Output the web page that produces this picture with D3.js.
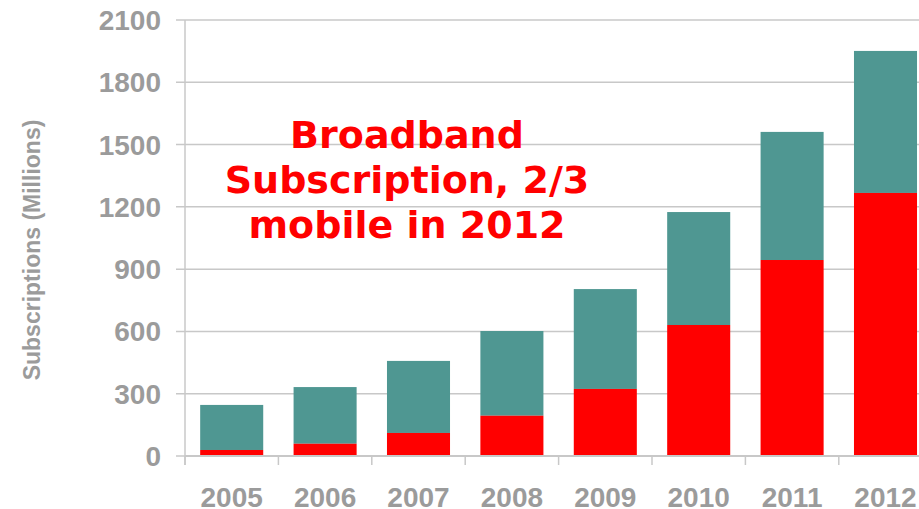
<!DOCTYPE html>
<html>
<head>
<meta charset="utf-8">
<script src="https://cdn.jsdelivr.net/npm/d3@7"></script>
<style>
  body { margin: 0; background: #fff; }
  svg { display: block; }
  .tickText { font-family: "Liberation Sans", Arial, sans-serif; font-weight: bold; fill: #9b9b9b; }
  .note { font-family: "DejaVu Sans", Verdana, sans-serif; font-weight: bold; fill: #ff0000; }
</style>
</head>
<body>
<div id="chart"></div>
<script>
// data
var years = ["2005","2006","2007","2008","2009","2010","2011","2012"]
var mobile = [29, 59, 111, 194, 323, 631, 944, 1267]
var total = [246, 332, 458, 602, 804, 1175, 1561, 1951]
var yTicks = [0, 300, 600, 900, 1200, 1500, 1800, 2100]
var noteLines = ["Broadband", "Subscription, 2/3", "mobile in 2012"]

var W = 919, H = 509
var svg = d3.select("#chart").append("svg")
  .attr("width", W)
  .attr("height", H)

var xScale = d3.scaleBand()
  .domain(years)
  .range([185, 185 + 93.4 * years.length])
  .paddingInner(0.325)
  .paddingOuter(0.1625)
var yScale = d3.scaleLinear()
  .domain([0, 2100])
  .range([456, 20])

/* grid */
svg.selectAll(".grid")
  .data(yTicks)
  .enter()
  .append("line")
  .attr("class", "grid")
  .attr("x1", 176)
  .attr("x2", W)
  .attr("y1", function(d) { return yScale(d) })
  .attr("y2", function(d) { return yScale(d) })
  .attr("stroke", "#c8c8c8")
  .attr("stroke-width", 1.5)

/* bars */
var bars = svg.append("g")
bars.selectAll(".tot")
  .data(years)
  .enter()
  .append("rect")
  .attr("x", function(d) { return xScale(d) })
  .attr("width", xScale.bandwidth())
  .attr("y", function(d, i) { return yScale(total[i]) })
  .attr("height", function(d, i) { return yScale(mobile[i]) - yScale(total[i]) })
  .attr("fill", "#4f9792")
bars.selectAll(".mob")
  .data(years)
  .enter()
  .append("rect")
  .attr("x", function(d) { return xScale(d) })
  .attr("width", xScale.bandwidth())
  .attr("y", function(d, i) { return yScale(mobile[i]) })
  .attr("height", function(d, i) { return yScale(0) - yScale(mobile[i]) })
  .attr("fill", "#ff0000")

/* axes */
svg.append("line")
  .attr("x1", 185).attr("x2", 185)
  .attr("y1", yScale(2100)).attr("y2", yScale(0) + 9)
  .attr("stroke", "#c8c8c8").attr("stroke-width", 1.5)
svg.append("line")
  .attr("x1", 185).attr("x2", W)
  .attr("y1", yScale(0)).attr("y2", yScale(0))
  .attr("stroke", "#c8c8c8").attr("stroke-width", 2)
svg.selectAll(".xtick")
  .data(years)
  .enter()
  .append("line")
  .attr("x1", function(d) { return xScale(d) - xScale.step() * xScale.paddingInner() / 2 })
  .attr("x2", function(d) { return xScale(d) - xScale.step() * xScale.paddingInner() / 2 })
  .attr("y1", yScale(0))
  .attr("y2", yScale(0) + 9)
  .attr("stroke", "#c8c8c8").attr("stroke-width", 1.5)

svg.selectAll(".ylab")
  .data(yTicks)
  .enter()
  .append("text")
  .attr("class", "tickText")
  .attr("x", 161)
  .attr("y", function(d) { return yScale(d) + 10 })
  .attr("text-anchor", "end")
  .style("font-size", "28px")
  .text(function(d) { return d })

svg.selectAll(".xlab")
  .data(years)
  .enter()
  .append("text")
  .attr("class", "tickText")
  .attr("x", function(d) { return xScale(d) + xScale.bandwidth() / 2 })
  .attr("y", 507)
  .attr("text-anchor", "middle")
  .style("font-size", "28px")
  .text(function(d) { return d })

svg.append("text")
  .attr("class", "tickText")
  .attr("transform", "translate(40,250) rotate(-90)")
  .attr("text-anchor", "middle")
  .style("font-size", "23px")
  .text("Subscriptions (Millions)")

/* annotation */
svg.selectAll(".note")
  .data(noteLines)
  .enter()
  .append("text")
  .attr("class", "note")
  .attr("x", 407)
  .attr("y", function(d, i) { return 148 + i * 45 })
  .attr("text-anchor", "middle")
  .style("font-size", "38px")
  .text(function(d) { return d })
</script>
</body>
</html>
